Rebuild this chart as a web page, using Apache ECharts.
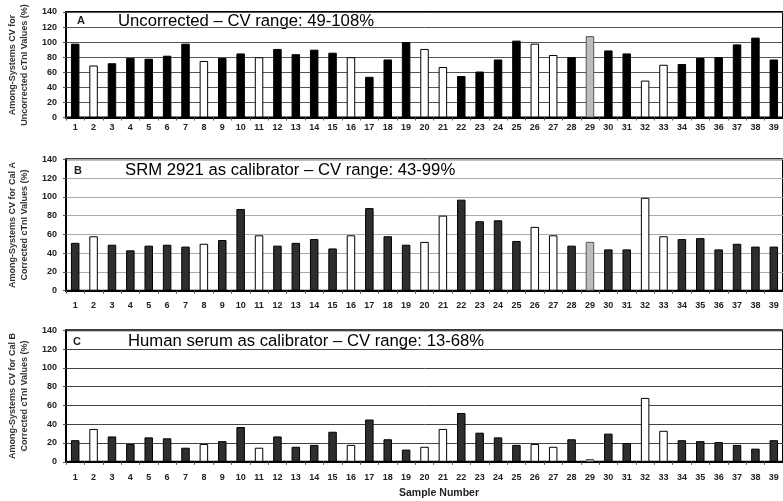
<!DOCTYPE html>
<html>
<head>
<meta charset="utf-8">
<script src="https://cdn.jsdelivr.net/npm/echarts@6/dist/echarts.min.js"></script>
<style>html,body{margin:0;padding:0;background:#fff}#c{width:783px;height:501px}</style>
</head>
<body>
<div id="c"></div>
<script>
const categories = ['1','2','3','4','5','6','7','8','9','10','11','12','13','14','15','16','17','18','19','20','21','22','23','24','25','26','27','28','29','30','31','32','33','34','35','36','37','38','39'];
// sample class: k = filled, w = open, g = grey
const sampleClass = ['k','w','k','k','k','k','k','w','k','k','w','k','k','k','k','w','k','k','k','w','w','k','k','k','k','w','w','k','g','k','k','w','w','k','k','k','k','k','k'];
const valuesA = [98,69,72,79,78,82,98,75,79,85,80,91,84,90,86,80,54,77,100,91,67,55,61,77,102,98,83,80,108,89,85,49,70,71,79,80,97,106,77];
const valuesB = [51,58,49,43,48,49,47,50,54,87,59,48,51,55,45,59,88,58,49,52,80,97,74,75,53,68,59,48,52,44,44,99,58,55,56,44,50,47,47];
const valuesC = [23,35,27,19,26,25,15,19,22,37,15,27,16,18,32,18,45,24,13,16,35,52,31,26,18,19,16,24,3,30,20,68,33,23,22,21,18,14,23];
const yTicks = [0,20,40,60,80,100,120,140];
const panelTitles = ['Uncorrected \u2013 CV range: 49-108%','SRM 2921 as calibrator \u2013 CV range: 43-99%','Human serum as calibrator \u2013 CV range: 13-68%'];
const panelLetters = ['A','B','C'];
const yNames = [['Among-Systems CV for','Uncorrected cTnI Values (%)'],['Among-Systems CV for Cal A','Corrected cTnI Values (%)'],['Among-Systems CV for Cal B','Corrected cTnI Values (%)']];
const xName = 'Sample Number';

const chart = echarts.init(document.getElementById('c'));
const grids = [
  {left:66, top:12, width:718, height:105.5},
  {left:66, top:159.3, width:718, height:131.4},
  {left:66, top:330.3, width:718, height:131.5}
];
const fillMain = ['#000000','#2e2e2e','#2e2e2e'];
const gridColor = ['#555','#aaa','#444'];
const labelMargin = [6, 10, 11];
const fontFam = '"Liberation Sans", Arial, sans-serif';

const xAxis = [], yAxis = [], series = [];
grids.forEach((g,i)=>{
  g.show = true; g.borderColor = '#000'; g.borderWidth = 2; g.backgroundColor='transparent';
  xAxis.push({type:'category', gridIndex:i, data:categories,
    axisLine:{lineStyle:{color:'#000', width:2}},
    axisTick:{show:true, inside:false, length:3, lineStyle:{color:'#555'}},
    axisLabel:{interval:0, margin:labelMargin[i], color:'#222', fontSize:9, fontWeight:'bold', fontFamily:fontFam}
  });
  yAxis.push({type:'value', gridIndex:i, min:yTicks[0], max:yTicks[yTicks.length-1], interval:yTicks[1]-yTicks[0],
    axisLine:{show:true, lineStyle:{color:'#000', width:1.5}},
    axisTick:{show:true, length:3, lineStyle:{color:'#555'}},
    axisLabel:{color:'#222', fontSize:9, fontWeight:'bold', fontFamily:fontFam, margin:9},
    splitLine:{show:true, lineStyle:{color:gridColor[i], width:1}}
  });
  const vals = [valuesA, valuesB, valuesC][i];
  series.push({type:'bar', xAxisIndex:i, yAxisIndex:i, barWidth:8.5,
    data: vals.map((v,j)=>{
      const c = sampleClass[j];
      let fill = fillMain[i], border = '#000';
      if (c==='w') fill = '#ffffff';
      if (c==='g') { fill = '#bdbdbd'; border = '#555'; }
      return {value:v, itemStyle:{color:fill, borderColor:border, borderWidth:1}};
    })
  });
});

const graphic = [];
const titleY = [21, 170.5, 341];
const letterY = [20.5, 171, 341.5];
const letterX = [81, 78, 77];
const titleX = [118, 125, 128];
const yNameCenter = [65, 225, 396];
for (let i=0;i<3;i++){
  graphic.push({type:'text', x:letterX[i], y:letterY[i], style:{text:panelLetters[i], fontSize:11, fontWeight:'bold', fill:'#222', fontFamily:fontFam, textAlign:'center', textVerticalAlign:'middle'}});
  graphic.push({type:'text', x:titleX[i], y:titleY[i], style:{text:panelTitles[i], fontSize:16.7, fill:'#000', fontFamily:fontFam, textVerticalAlign:'middle', textAlign:'left'}});
  graphic.push({type:'text', x:13, y:yNameCenter[i], rotation:Math.PI/2, style:{text:yNames[i][0], fontSize:9, fontWeight:'bold', fill:'#333', fontFamily:fontFam, textAlign:'center', textVerticalAlign:'middle'}});
  graphic.push({type:'text', x:25, y:yNameCenter[i], rotation:Math.PI/2, style:{text:yNames[i][1], fontSize:9, fontWeight:'bold', fill:'#333', fontFamily:fontFam, textAlign:'center', textVerticalAlign:'middle'}});
}
graphic.push({type:'text', x:439, y:493, style:{text:xName, fontSize:10.5, fontWeight:'bold', fill:'#222', fontFamily:fontFam, textAlign:'center', textVerticalAlign:'middle'}});

chart.setOption({animation:false, grid:grids, xAxis, yAxis, series, graphic});
</script>
</body>
</html>
